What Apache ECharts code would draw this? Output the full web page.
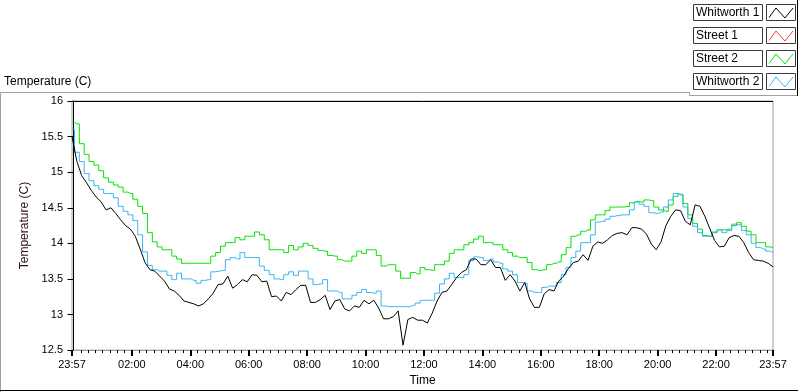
<!DOCTYPE html>
<html>
<head>
<meta charset="utf-8">
<script src="https://cdn.jsdelivr.net/npm/echarts@6/dist/echarts.min.js"></script>
<style>
html,body{margin:0;padding:0;background:#fff;}
#chart{width:800px;height:392px;}
</style>
</head>
<body>
<div id="chart"></div>
<script>
// ---- data (minutes since midnight; 23:57 of previous day = -3) ----
const sampleStartMin = -3;
const sampleStepMin = 10;
const seriesNames = ['Whitworth 1', 'Street 1', 'Street 2', 'Whitworth 2'];
const seriesColors = ['#000000', '#ff3a3a', '#00e400', '#38b4f4'];

const whitworth1 = [
15.50,15.15,14.95,14.85,14.74,14.65,14.58,14.47,14.50,14.42,14.33,14.25,14.20,14.10,13.92,13.73,13.63,13.61,13.54,13.47,13.36,13.33,13.27,13.19,13.17,13.15,13.12,13.15,13.22,
13.30,13.42,13.43,13.54,13.37,13.42,13.49,13.46,13.56,13.55,13.46,13.47,13.25,13.26,13.19,13.31,13.28,13.35,13.41,13.41,13.17,13.17,13.21,13.27,13.07,13.19,13.21,13.08,13.05,
13.12,13.10,13.20,13.15,13.20,13.09,12.94,12.94,12.97,13.05,12.57,12.93,12.96,12.92,12.92,12.88,13.02,13.19,13.31,13.33,13.42,13.52,13.59,13.63,13.78,13.78,13.70,13.70,13.77,
13.66,13.66,13.48,13.56,13.47,13.33,13.45,13.22,13.10,13.10,13.29,13.35,13.33,13.47,13.54,13.65,13.73,13.75,13.84,13.76,13.96,14.02,14.00,14.05,14.11,14.14,14.15,14.12,14.22,
14.22,14.20,14.13,13.99,13.91,14.02,14.25,14.38,14.47,14.46,14.31,14.26,14.54,14.52,14.38,14.21,14.04,13.95,13.96,14.08,14.11,14.10,14.01,13.87,13.77,13.76,13.75,13.72,13.67
];
const street1 = [];
const street2 = [
15.70,15.68,15.40,15.25,15.15,15.10,15.02,14.92,14.86,14.82,14.79,14.72,14.70,14.62,14.52,14.42,14.15,14.02,13.95,13.91,13.91,13.82,13.78,13.72,13.72,13.72,13.72,13.72,13.72,
13.82,13.87,13.96,14.01,14.01,14.08,14.05,14.10,14.10,14.16,14.12,14.05,13.91,13.91,13.91,13.87,13.97,13.91,13.95,14.00,13.97,13.93,13.90,13.89,13.83,13.82,13.77,13.75,13.75,
13.82,13.89,13.86,13.91,13.91,13.83,13.68,13.70,13.70,13.61,13.51,13.51,13.59,13.57,13.66,13.63,13.62,13.70,13.70,13.75,13.86,13.91,13.91,13.98,14.01,14.06,14.10,14.01,14.01,
13.98,13.98,13.91,13.87,13.82,13.80,13.80,13.73,13.63,13.62,13.63,13.70,13.72,13.74,13.84,13.94,14.10,14.12,14.17,14.19,14.33,14.40,14.40,14.46,14.51,14.51,14.51,14.52,14.57,
14.59,14.58,14.61,14.60,14.51,14.47,14.45,14.54,14.66,14.69,14.56,14.40,14.28,14.20,14.11,14.10,14.15,14.19,14.19,14.20,14.25,14.29,14.24,14.17,14.12,14.01,14.01,13.95,13.94
];
const whitworth2 = [
15.60,15.28,15.15,14.98,14.88,14.81,14.76,14.70,14.70,14.64,14.52,14.45,14.40,14.32,14.12,13.88,13.69,13.63,13.61,13.61,13.55,13.49,13.58,13.50,13.50,13.48,13.44,13.48,13.49,
13.60,13.61,13.62,13.77,13.80,13.78,13.87,13.80,13.80,13.80,13.68,13.62,13.56,13.50,13.49,13.56,13.60,13.55,13.61,13.61,13.50,13.42,13.43,13.49,13.33,13.33,13.31,13.22,13.22,
13.27,13.31,13.35,13.31,13.30,13.33,13.12,13.11,13.11,13.11,13.11,13.11,13.13,13.16,13.20,13.20,13.20,13.30,13.43,13.50,13.58,13.52,13.52,13.56,13.76,13.81,13.80,13.76,13.78,
13.74,13.72,13.64,13.61,13.56,13.45,13.44,13.33,13.31,13.31,13.38,13.40,13.40,13.45,13.56,13.66,13.80,13.89,14.01,14.01,14.12,14.30,14.31,14.34,14.38,14.39,14.40,14.40,14.47,
14.58,14.55,14.52,14.43,14.42,14.44,14.51,14.61,14.70,14.68,14.51,14.35,14.24,14.15,14.10,14.10,14.16,14.19,14.15,14.18,14.27,14.26,14.18,14.12,14.00,13.94,13.92,13.89,13.87
];

const xMajorTickMinutes = [-3,120,240,360,480,600,720,840,960,1080,1200,1320,1437];
const xMajorTickLabels = ['23:57','02:00','04:00','06:00','08:00','10:00','12:00','14:00','16:00','18:00','20:00','22:00','23:57'];
const xMinorTickMinutes = [];
for (let m = 0; m < 1437; m += 15) { if (m % 120 !== 0) xMinorTickMinutes.push(m); }

const toPairs = arr => arr.map((v, i) => [sampleStartMin + i * sampleStepMin, v]);

const FONT = 'Liberation Sans';
const chart = echarts.init(document.getElementById('chart'), null, {renderer: 'canvas'});

const legendGraphics = [];
seriesNames.forEach((name, i) => {
  const y = 4.5 + i * 23;
  legendGraphics.push({
    type: 'rect', shape: {x: 693.5, y: y, width: 69, height: 16}, silent: true,
    style: {fill: '#fff', stroke: '#3a3a3a', lineWidth: 1}
  });
  legendGraphics.push({
    type: 'text', x: 696, y: y + 8.5, silent: true,
    style: {text: name, font: '12px "' + FONT + '"', fill: '#000', verticalAlign: 'middle', align: 'left'}
  });
  legendGraphics.push({
    type: 'rect', shape: {x: 766.5, y: y, width: 29, height: 16}, silent: true,
    style: {fill: '#fff', stroke: '#3a3a3a', lineWidth: 1}
  });
  legendGraphics.push({
    type: 'polyline', silent: true,
    shape: {points: [[769, y + 13], [776, y + 3.5], [785, y + 13.5], [793, y + 3.5]]},
    style: {stroke: seriesColors[i], lineWidth: 1, fill: null}
  });
});

const frameGraphics = [
  {type: 'line', shape: {x1: 0, y1: 92.5, x2: 689.5, y2: 92.5}, style: {stroke: '#a0a0a0', lineWidth: 1}, silent: true},
  {type: 'line', shape: {x1: 689.5, y1: 92.5, x2: 689.5, y2: 95.5}, style: {stroke: '#a0a0a0', lineWidth: 1}, silent: true},
  {type: 'line', shape: {x1: 689.5, y1: 95.5, x2: 797, y2: 95.5}, style: {stroke: '#a0a0a0', lineWidth: 1}, silent: true},
  {type: 'line', shape: {x1: 797.5, y1: 0, x2: 797.5, y2: 96}, style: {stroke: '#000', lineWidth: 1}, silent: true},
  {type: 'line', shape: {x1: 0.5, y1: 92.5, x2: 0.5, y2: 392}, style: {stroke: '#a0a0a0', lineWidth: 1}, silent: true},
  {type: 'line', shape: {x1: 0, y1: 390.5, x2: 798, y2: 390.5}, style: {stroke: '#000', lineWidth: 1}, silent: true},
  {type: 'line', shape: {x1: 72, y1: 101.5, x2: 773, y2: 101.5}, style: {stroke: '#000', lineWidth: 1}, silent: true, z: 100},
  {type: 'text', x: 4, y: 82, silent: true,
   style: {text: 'Temperature (C)', font: '12px "' + FONT + '"', fill: '#000', verticalAlign: 'middle'}}
];

const option = {
  backgroundColor: '#ffffff',
  animation: false,
  grid: {left: 72, right: 27, top: 101, bottom: 39, show: true, borderColor: '#a0a0a0', borderWidth: 1, backgroundColor: '#fff'},
  xAxis: [
    {
      type: 'value', min: -3, max: 1437, position: 'bottom',
      name: 'Time', nameLocation: 'middle', nameGap: 23,
      nameTextStyle: {fontFamily: FONT, fontSize: 12, color: '#000'},
      axisLine: {lineStyle: {color: '#a0a0a0', width: 1}},
      axisTick: {customValues: xMajorTickMinutes, length: 6, lineStyle: {color: '#000', width: 2}},
      axisLabel: {
        customValues: xMajorTickMinutes, margin: 9, fontFamily: FONT, fontSize: 11, color: '#000',
        formatter: v => { const i = xMajorTickMinutes.indexOf(v); return i >= 0 ? xMajorTickLabels[i] : ''; }
      },
      splitLine: {show: false}
    },
    {
      type: 'value', min: -3, max: 1437, position: 'bottom',
      axisLine: {show: false},
      axisTick: {customValues: xMinorTickMinutes, length: 3, lineStyle: {color: '#000', width: 1}},
      axisLabel: {show: false},
      splitLine: {show: false}
    }
  ],
  yAxis: {
    type: 'value', min: 12.5, max: 16, interval: 0.5,
    name: 'Temperature (C)', nameLocation: 'middle', nameGap: 28, nameRotate: 90,
    nameTextStyle: {fontFamily: FONT, fontSize: 12, color: '#2a1010'},
    axisLine: {show: true, lineStyle: {color: '#000', width: 1}},
    axisTick: {show: true, length: 6, lineStyle: {color: '#000', width: 1}},
    axisLabel: {margin: 9, fontFamily: FONT, fontSize: 11, color: '#000'},
    splitLine: {show: false}
  },
  series: [
    {name: seriesNames[2], type: 'line', data: toPairs(street2), step: 'middle', showSymbol: false,
     lineStyle: {color: seriesColors[2], width: 1}, z: 2},
    {name: seriesNames[3], type: 'line', data: toPairs(whitworth2), step: 'middle', showSymbol: false,
     lineStyle: {color: seriesColors[3], width: 1}, z: 3},
    {name: seriesNames[1], type: 'line', data: toPairs(street1), showSymbol: false,
     lineStyle: {color: seriesColors[1], width: 1}, z: 4},
    {name: seriesNames[0], type: 'line', data: toPairs(whitworth1), showSymbol: false,
     lineStyle: {color: seriesColors[0], width: 1}, z: 5}
  ],
  graphic: frameGraphics.concat(legendGraphics)
};
chart.setOption(option);
</script>
</body>
</html>
